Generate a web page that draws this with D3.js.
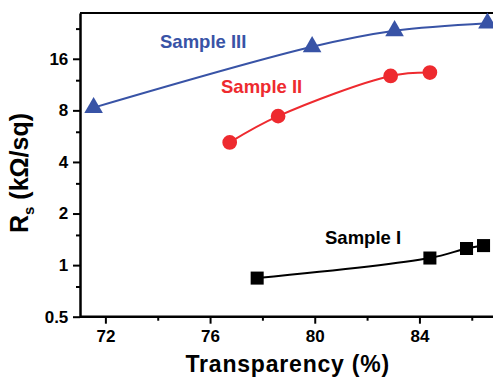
<!DOCTYPE html>
<html><head><meta charset="utf-8">
<script src="https://cdn.jsdelivr.net/npm/d3@7"></script>
<style>body{margin:0;background:#fff}svg{display:block}text{font-family:"Liberation Sans",Arial,sans-serif;font-weight:bold}</style>
</head><body>
<script>
const sample1X=[77.8,84.4,85.8,86.45];
const sample1Y=[0.84,1.10,1.25,1.30];
const sample2X=[76.75,78.6,82.9,84.4];
const sample2Y=[5.2,7.4,12.7,13.3];
const sample3X=[71.55,79.9,83.05,86.6];
const sample3Y=[8.3,18.8,23.3,25.8];
const xTicks=[72,76,80,84];
const xMinor=[74,78,82,86];
const yTicks=[0.5,1,2,4,8,16];
const yTickLabels=["0.5","1","2","4","8","16"];
const yMinor=[0.75,1.5,3,6,12,24];
const labels=[{t:"Sample III",c:"#3853a6"},{t:"Sample II",c:"#ee2a2f"},{t:"Sample I",c:"#000"}];

const W=493,H=377;
const svg=d3.select("body").append("svg").attr("width",W).attr("height",H);
const x=d3.scaleLinear().domain([71.03,87.6]).range([80,80+(87.6-71.03)*26.17]);
const y=d3.scaleLog().base(2).domain([0.5,29.6]).range([316.7,13]);

svg.append("line").attr("x1",80).attr("x2",W).attr("y1",13).attr("y2",13).attr("stroke","#000").attr("stroke-width",2);

const gx=svg.append("g").attr("transform","translate(0,316.7)");
gx.call(d3.axisBottom(x).tickValues(xTicks).tickFormat(d3.format("d")).tickSize(7).tickSizeOuter(0));
gx.append("g").call(d3.axisBottom(x).tickValues(xMinor).tickFormat("").tickSize(4).tickSizeOuter(0)).select(".domain").remove();
const gy=svg.append("g").attr("transform","translate(80,0)");
gy.call(d3.axisLeft(y).tickValues(yTicks).tickFormat((d,i)=>yTickLabels[i]).tickSize(7).tickSizeOuter(0));
gy.append("g").call(d3.axisLeft(y).tickValues(yMinor).tickFormat("").tickSize(4).tickSizeOuter(0)).select(".domain").remove();
svg.selectAll(".domain").attr("stroke-width",2.5);
svg.selectAll(".tick line").attr("stroke-width",2);
gx.selectAll(".tick text").attr("font-size",17).attr("dy","0.9em").attr("fill","#000");
gy.selectAll(".tick text").attr("font-size",17).attr("dx","-0.1em").attr("fill","#000");
gx.select(".domain").attr("d","M80,0H"+W);

const line=d3.line().x(d=>x(d[0])).y(d=>y(d[1])).curve(d3.curveCatmullRom.alpha(0.5));
const series=[
 {xs:sample1X,ys:sample1Y,c:"#000",sym:d3.symbolSquare,size:170},
 {xs:sample2X,ys:sample2Y,c:"#ee2a2f",sym:d3.symbolCircle,size:170},
 {xs:sample3X,ys:sample3Y,c:"#3853a6",sym:d3.symbolTriangle,size:150}
];
series.forEach(s=>{
  const pts=s.xs.map((v,i)=>[v,s.ys[i]]);
  svg.append("path").attr("d",line(pts)).attr("fill","none").attr("stroke",s.c).attr("stroke-width",2);
  svg.selectAll(null).data(pts).enter().append("path")
    .attr("d",d3.symbol().type(s.sym).size(s.size))
    .attr("transform",d=>`translate(${x(d[0])},${y(d[1])})`).attr("fill",s.c);
});

const lp=[[160,47.7],[221,93.3],[325,244.3]];
labels.forEach((l,i)=>svg.append("text").attr("x",lp[i][0]).attr("y",lp[i][1]).attr("fill",l.c).attr("font-size",18.5).text(l.t));

svg.append("text").attr("x",185.5).attr("y",372).attr("font-size",23).attr("letter-spacing","0.8px").attr("fill","#000").text("Transparency (%)");
const yl=svg.append("text").attr("transform","translate(28,233) rotate(-90)").attr("font-size",25).attr("fill","#000");
yl.append("tspan").text("R");
yl.append("tspan").attr("font-size",15).attr("dy",6).text("s");
yl.append("tspan").attr("dy",-6).text(" (kΩ/sq)");
</script>
</body></html>
